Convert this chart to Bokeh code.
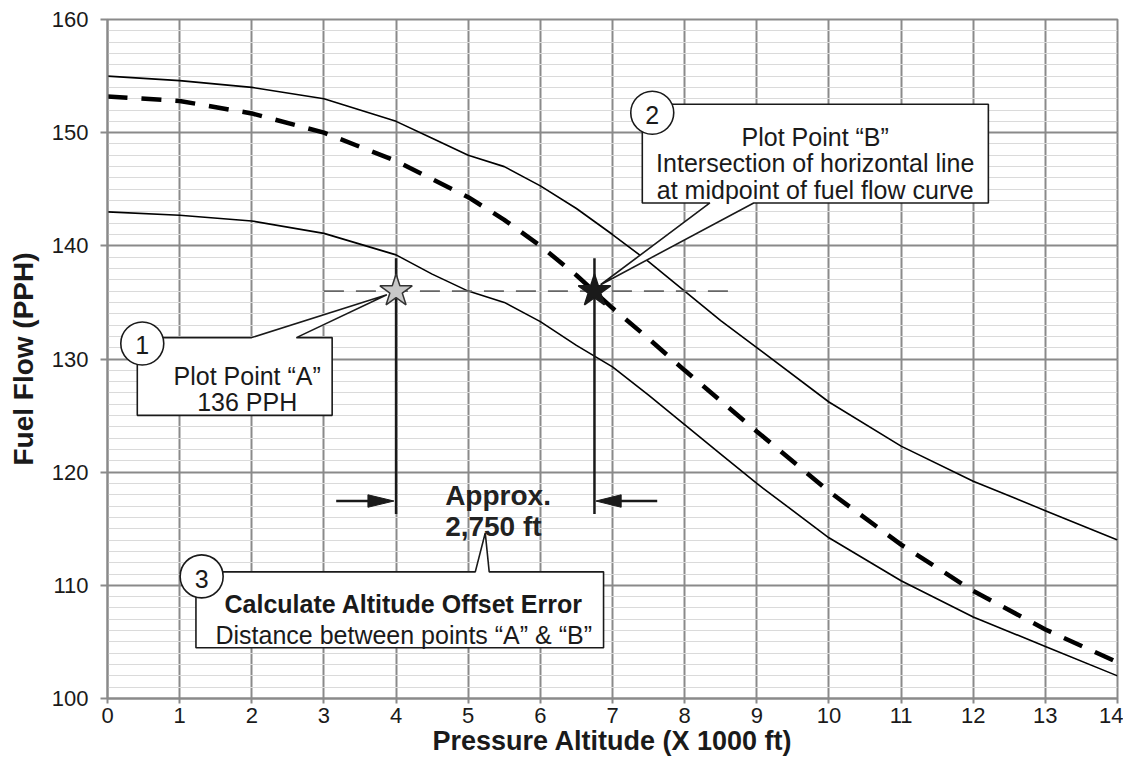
from bokeh.plotting import figure
from bokeh.models import Range1d, SingleIntervalTicker
from bokeh.embed import file_html
from bokeh.resources import INLINE
from bokeh.core.properties import value

# ---------------- data ----------------
upper_alt = [0, 1, 2, 3, 4, 4.5, 5, 5.5, 6, 6.5, 7, 7.5, 8, 8.5, 9, 10, 11, 12, 13, 14]
upper_ff = [155, 154.6, 154.0, 153.0, 151.0, 149.5, 148.0, 147.0, 145.3, 143.3, 141.0,
            138.6, 136.0, 133.4, 131.0, 126.2, 122.3, 119.2, 116.6, 114.0]

mid_alt = [0, 1, 2, 3, 4, 5, 5.5, 6, 6.5, 7, 7.5, 8, 9, 10, 11, 12, 13, 14]
mid_ff = [153.2, 152.8, 151.7, 150.0, 147.5, 144.3, 142.3, 140.0, 137.4, 134.5, 131.8,
          129.0, 123.6, 118.3, 113.6, 109.5, 106.1, 103.2]

lower_alt = [0, 1, 2, 3, 4, 4.5, 5, 5.5, 6, 6.5, 7, 7.5, 8, 8.5, 9, 10, 11, 12, 13, 14]
lower_ff = [143.0, 142.7, 142.2, 141.1, 139.2, 137.5, 136.0, 135.0, 133.3, 131.2, 129.3,
            126.8, 124.2, 121.6, 119.0, 114.2, 110.4, 107.2, 104.6, 102.0]

point_a_alt = 4.0
point_b_alt = 6.75
target_ff = 136
offset_label = ["Approx.", "2,750 ft"]

FONT = value("Liberation Sans")
TXT = "#1a1a1a"

p = figure(width=1123, height=758, output_backend="svg", toolbar_location=None,
           x_range=Range1d(0, 14), y_range=Range1d(100, 160),
           min_border_left=107, min_border_right=6, min_border_top=19, min_border_bottom=40)
p.background_fill_color = "white"
p.border_fill_color = "white"
p.outline_line_color = "#8a8a8a"
p.outline_line_width = 2

p.xaxis.ticker = SingleIntervalTicker(interval=1, num_minor_ticks=0)
p.yaxis.ticker = SingleIntervalTicker(interval=10, num_minor_ticks=10)
p.xgrid.grid_line_color = "#8a8a8a"
p.xgrid.grid_line_width = 2
p.ygrid.grid_line_color = "#8a8a8a"
p.ygrid.grid_line_width = 2
p.ygrid.minor_grid_line_color = "#dadada"
p.ygrid.minor_grid_line_width = 1.2

for ax in (p.xaxis, p.yaxis):
    ax.axis_line_color = "#8a8a8a"
    ax.axis_line_width = 2
    ax.major_tick_line_color = "#8a8a8a"
    ax.major_tick_line_width = 2
    ax.major_tick_in = 0
    ax.minor_tick_line_color = None
    ax.major_label_text_font = "Liberation Sans"
    ax.major_label_text_font_size = "22px"
    ax.major_label_text_color = TXT
    ax.axis_label_text_font = "Liberation Sans"
    ax.axis_label_text_font_style = "bold"
    ax.axis_label_text_color = TXT

p.xaxis.major_tick_out = 5
p.xaxis.major_label_standoff = 4
p.xaxis.axis_label = "Pressure Altitude (X 1000 ft)"
p.xaxis.axis_label_text_font_size = "27px"
p.xaxis.axis_label_standoff = 0

p.yaxis.major_tick_out = 7
p.yaxis.major_label_standoff = 12
p.yaxis.axis_label = "Fuel Flow (PPH)"
p.yaxis.axis_label_text_font_size = "28px"
p.yaxis.axis_label_standoff = 10

# ---------------- curves ----------------
p.line(upper_alt, upper_ff, line_color="black", line_width=1.6)
p.line(lower_alt, lower_ff, line_color="black", line_width=1.6)
p.line(mid_alt, mid_ff, line_color="black", line_width=4.5, line_dash="20 14")

# horizontal guide at target fuel flow
p.line([3.0, 8.68], [target_ff, target_ff], line_color="#666666", line_width=1.8,
       line_dash="20 12")

# vertical lines through points
for xa in (point_a_alt, point_b_alt):
    p.line([xa, xa], [116.3, 138.9], line_color="#1a1a1a", line_width=2.5)

# dimension arrows
arrow_y = 117.45
p.line([3.17, 3.7], [arrow_y, arrow_y], line_color="#1a1a1a", line_width=2.5)
p.patch([3.97, 3.61, 3.61], [arrow_y, arrow_y + 0.55, arrow_y - 0.55], fill_color="#1a1a1a",
        line_color="#1a1a1a")
p.line([7.05, 7.62], [arrow_y, arrow_y], line_color="#1a1a1a", line_width=2.5)
p.patch([6.77, 7.12, 7.12], [arrow_y, arrow_y + 0.55, arrow_y - 0.55], fill_color="#1a1a1a",
        line_color="#1a1a1a")

# stars
p.scatter([point_a_alt], [target_ff], marker="star", size=34, fill_color="#c8c8c8",
          line_color="#333333", line_width=1.5)
p.scatter([point_b_alt], [target_ff], marker="star", size=34, fill_color="#1a1a1a",
          line_color="#1a1a1a", line_width=1.5)

# ---------------- callouts ----------------
callout_1 = ([0.413, 1.998, 3.872, 2.618, 3.114, 3.114, 0.413],
             [131.89, 131.89, 135.68, 131.89, 131.89, 125.02, 125.02])
callout_2 = ([7.413, 12.21, 12.21, 8.957, 6.835, 8.35, 7.413],
             [152.51, 152.51, 143.79, 143.79, 136.56, 143.79, 143.79])
callout_3 = ([1.226, 5.098, 5.236, 5.291, 6.876, 6.876, 1.226],
             [111.19, 111.19, 114.63, 111.19, 111.19, 104.49, 104.49])
for xs, ys in (callout_1, callout_2, callout_3):
    p.patch(xs, ys, fill_color="white", line_color="#1a1a1a", line_width=1.6)

circ_x = [0.482, 7.551, 1.305]
circ_y = [131.37, 151.76, 110.79]
p.scatter(circ_x, circ_y, marker="circle", size=43, fill_color="white",
          line_color="#1a1a1a", line_width=1.6)
p.text(circ_x, [131.2, 151.6, 110.6], text=["1", "2", "3"], text_font=FONT,
       text_font_size="25px", text_align="center", text_baseline="middle",
       text_color=TXT)

normal_x = [1.936, 1.936, 9.81, 9.81, 9.81, 4.106]
normal_y = [128.48, 126.17, 149.63, 147.28, 144.93, 105.64]
normal_t = ["Plot Point \u201cA\u201d", "136 PPH", "Plot Point \u201cB\u201d",
            "Intersection of horizontal line", "at midpoint of fuel flow curve",
            "Distance between points \u201cA\u201d & \u201cB\u201d"]
p.text(normal_x, normal_y, text=normal_t, text_font=FONT, text_font_size="25px",
       text_align="center", text_baseline="alphabetic", text_color=TXT)

p.text([4.106], [108.31], text=["Calculate Altitude Offset Error"], text_font=FONT,
       text_font_size="25px", text_font_style="bold", text_align="center",
       text_baseline="alphabetic", text_color=TXT)

p.text([4.68, 4.68], [117.91, 115.2], text=offset_label, text_font=FONT,
       text_font_size="28px", text_font_style="bold", text_align="left",
       text_baseline="alphabetic", text_color="#222222")

open("out.html", "w").write(file_html(p, INLINE))
